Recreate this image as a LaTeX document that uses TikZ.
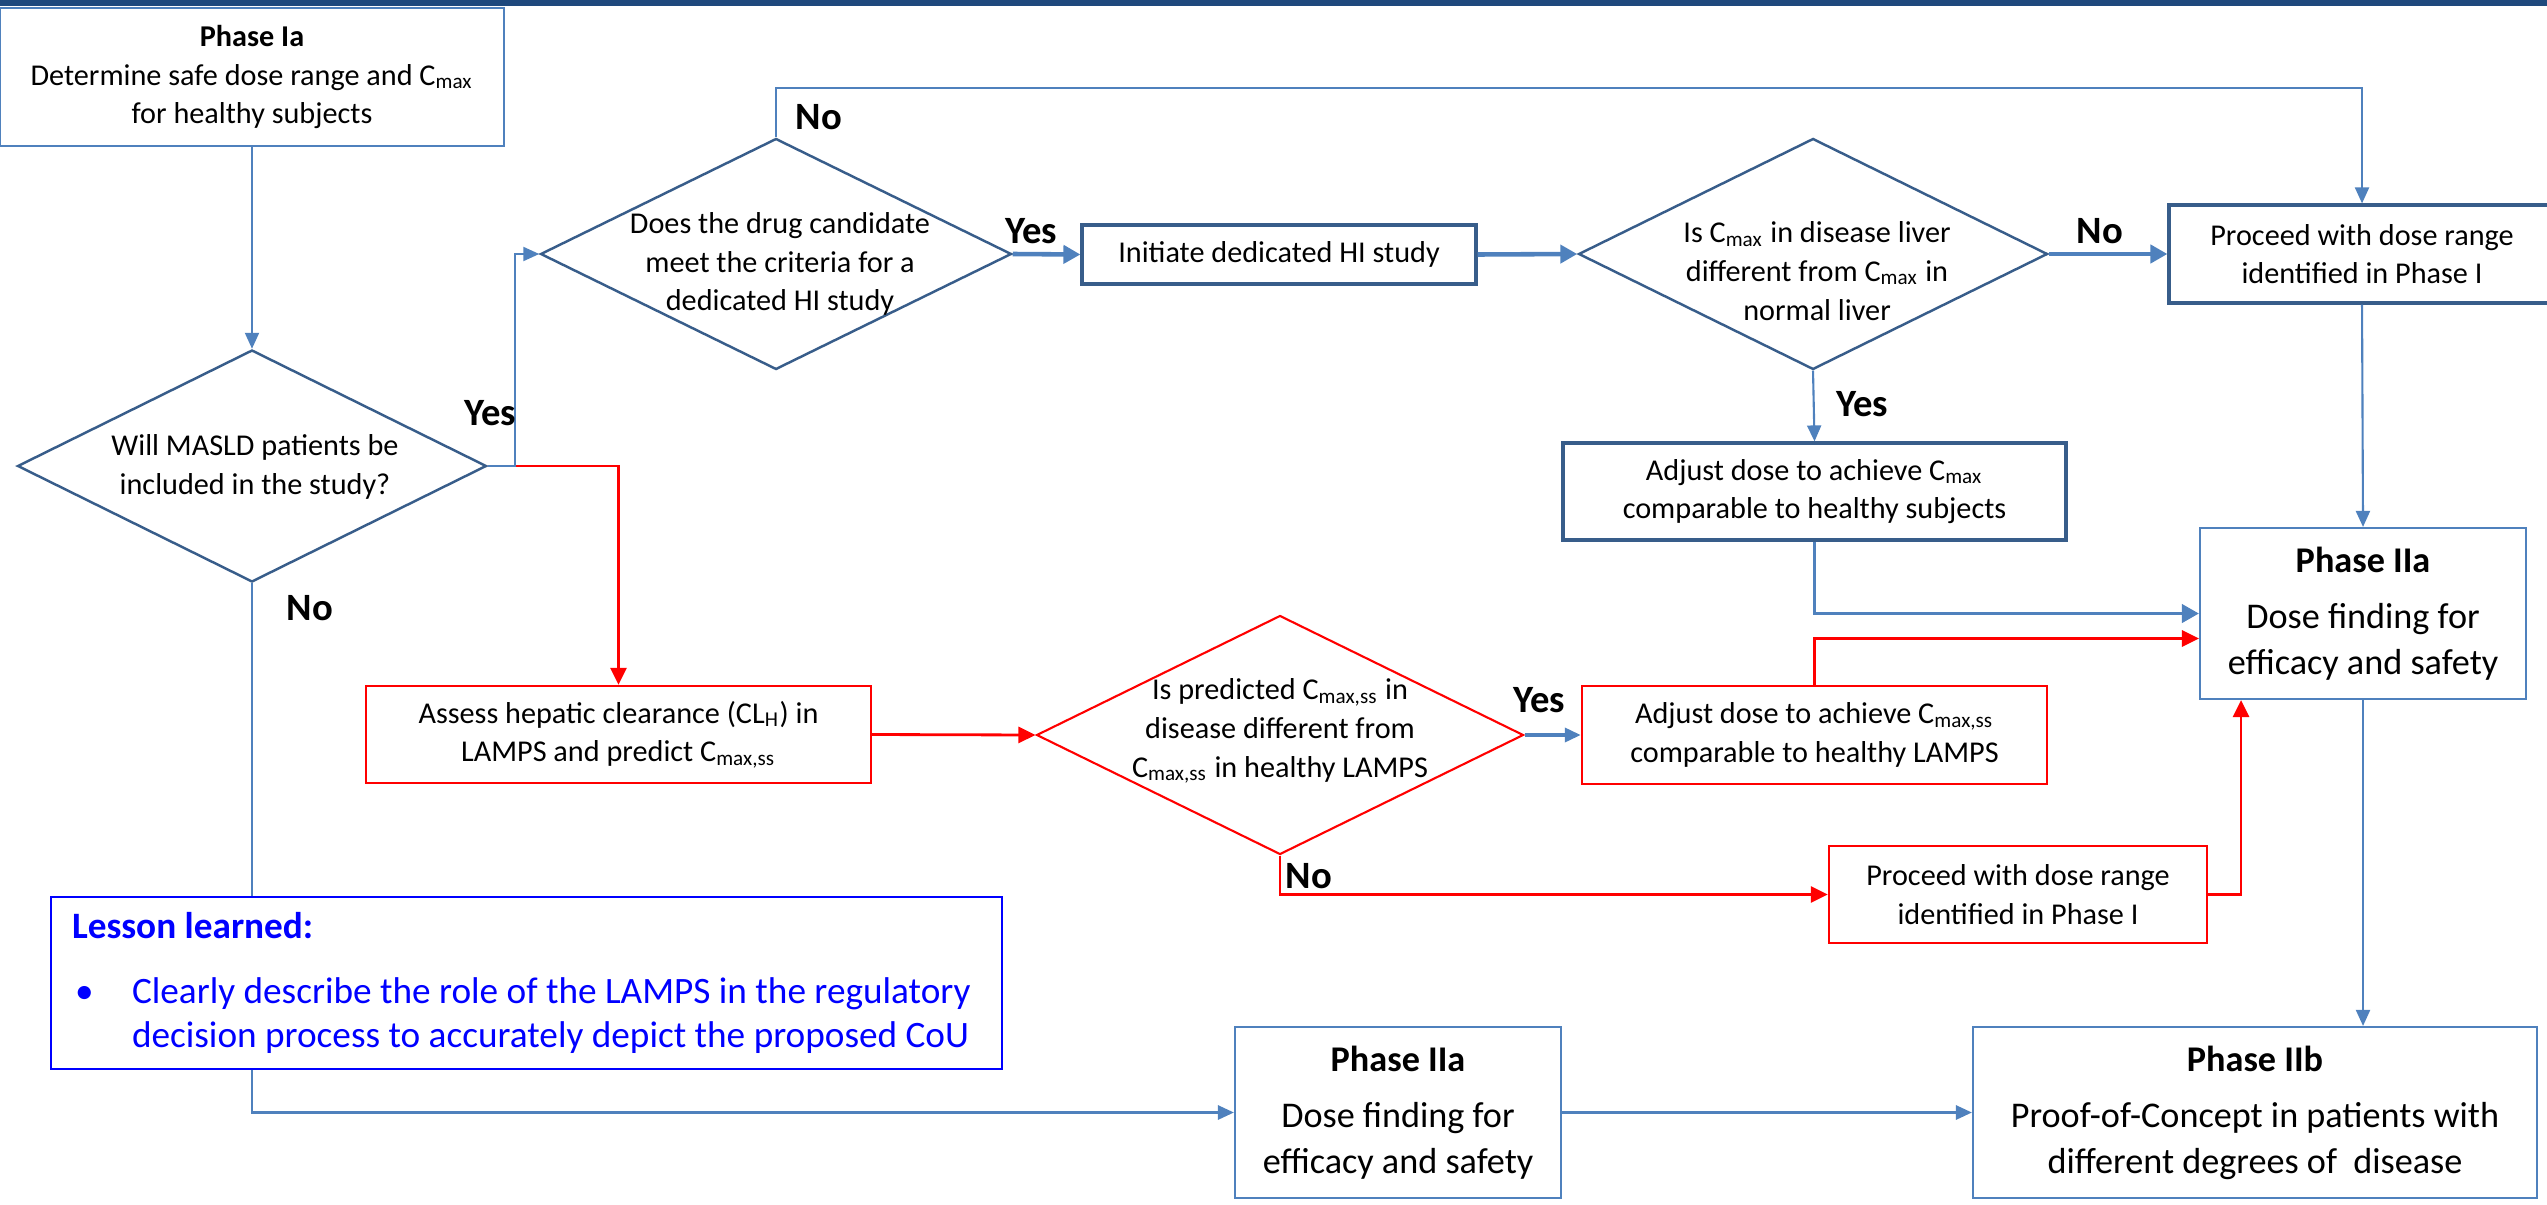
\documentclass[tikz,border=0pt]{standalone}
\usepackage{fontspec}
\setmainfont{Carlito}
\usepackage{xcolor}
\usetikzlibrary{shapes.geometric,arrows.meta}
\definecolor{flowblue}{HTML}{4F81BD}
\definecolor{darkblue}{HTML}{385D8A}
\definecolor{headbar}{HTML}{1F497D}
\definecolor{lessonblue}{HTML}{0000FF}
\newcommand{\flowfont}{\fontsize{8.6}{11}\selectfont}
\newcommand{\phasefont}{\fontsize{10.3}{13}\selectfont}
\newcommand{\lessonfont}{\fontsize{10.6}{12.6}\selectfont}
\newcommand{\answerfont}{\fontsize{11}{13}\selectfont\bfseries}

\begin{document}
\begin{tikzpicture}[
        box/.style={draw=flowblue, line width=0.6pt, fill=white, align=center, inner sep=0pt, font=\flowfont},
        hibox/.style={draw=darkblue, line width=0.9pt, fill=white, align=center, inner sep=0pt, font=\flowfont},
        redbox/.style={draw=red, line width=0.7pt, fill=white, align=center, inner sep=0pt, font=\flowfont},
        dia/.style={diamond, draw=darkblue, line width=0.7pt, inner sep=0pt},
        reddia/.style={diamond, draw=red, line width=0.6pt, inner sep=0pt},
        diatext/.style={align=center, font=\flowfont},
        answer/.style={font=\answerfont},
        conn/.style={draw=flowblue, line width=0.6pt, -{Triangle[length=1.6mm, width=1.4mm]}},
        thickconn/.style={draw=flowblue, line width=1.3pt, -{Triangle[length=1.7mm, width=1.8mm]}},
        redconn/.style={draw=red, line width=0.8pt, -{Triangle[length=1.7mm, width=1.6mm]}}
    ]
        \useasboundingbox (0, 0) rectangle (25.47, -12.04);
        \fill[headbar] (0, 0) rectangle (25.47, -0.06);

        % Phase I boxes and questions
        \node[box, minimum width=5.04cm, minimum height=1.38cm] (p1a) at (2.52, -0.77)
            {\textbf{Phase Ia}\\Determine safe dose range and C\textsubscript{max}\\for healthy subjects};
        \node[dia, minimum width=4.69cm, minimum height=2.32cm] (q1) at (2.52, -4.66) {};
        \node[diatext] (q1text) at (2.55, -4.67) {Will MASLD patients be\\included in the study?};
        \node[dia, minimum width=4.71cm, minimum height=2.31cm] (q2) at (7.76, -2.54) {};
        \node[diatext] (q2text) at (7.8, -2.64) {Does the drug candidate\\meet the criteria for a\\dedicated HI study};

        % Dedicated HI study branch
        \node[hibox, minimum width=3.94cm, minimum height=0.59cm] (hi) at (12.79, -2.545) {Initiate dedicated HI study};
        \node[dia, minimum width=4.69cm, minimum height=2.31cm] (q3) at (18.13, -2.54) {};
        \node[diatext] (q3text) at (18.17, -2.71) {Is C\textsubscript{max} in disease liver\\different from C\textsubscript{max} in\\normal liver};
        \node[hibox, minimum width=3.86cm, minimum height=0.98cm] (proc1) at (23.62, -2.54) {Proceed with dose range\\identified in Phase I};
        \node[hibox, minimum width=5.03cm, minimum height=0.97cm] (adj1) at (18.145, -4.915) {Adjust dose to achieve C\textsubscript{max}\\comparable to healthy subjects};
        \node[box, font=\phasefont, minimum width=3.26cm, minimum height=1.71cm] (p2a) at (23.63, -6.135)
            {\textbf{Phase IIa}\\[3pt]Dose finding for\\efficacy and safety};

        % LAMPS branch
        \node[redbox, minimum width=5.05cm, minimum height=0.97cm] (assess) at (6.185, -7.345)
            {Assess hepatic clearance (CL\textsubscript{H}) in\\LAMPS and predict C\textsubscript{max,ss}};
        \node[reddia, minimum width=4.87cm, minimum height=2.39cm] (q4) at (12.8, -7.35) {};
        \node[diatext] (q4text) at (12.8, -7.31) {Is predicted C\textsubscript{max,ss} in\\disease different from\\C\textsubscript{max,ss} in healthy LAMPS};
        \node[redbox, minimum width=4.65cm, minimum height=0.98cm] (adj2) at (18.145, -7.35) {Adjust dose to achieve C\textsubscript{max,ss}\\comparable to healthy LAMPS};
        \node[redbox, minimum width=3.78cm, minimum height=0.97cm] (proc2) at (20.18, -8.945) {Proceed with dose range\\identified in Phase I};

        % Phase II boxes
        \node[box, font=\phasefont, minimum width=3.26cm, minimum height=1.71cm] (p2a2) at (13.98, -11.125)
            {\textbf{Phase IIa}\\[3pt]Dose finding for\\efficacy and safety};
        \node[box, font=\phasefont, minimum width=5.64cm, minimum height=1.71cm] (p2b) at (22.55, -11.125)
            {\textbf{Phase IIb}\\[3pt]Proof-of-Concept in patients with\\different degrees of~ disease};

        % Connections
        \draw[conn] (p1a) -- (q1);
        \draw[redconn] (q1.east) -| (assess.north);
        \draw[conn] (q1.east) -- ++(0.27, 0) |- (q2.west);
        \draw[conn, line width=0.8pt] (q1.south) |- (p2a2.west);
        \draw[conn] (q2.north) |- ([yshift=1.15cm]proc1.north) -- (proc1.north);
        \draw[thickconn] (q2.east) -- (hi.west);
        \draw[thickconn] (hi.east) -- (q3.west);
        \draw[thickconn] (q3.east) -- (proc1.west);
        \draw[conn] (q3.south) -- (adj1.north);
        \draw[conn] (proc1.south) -- (p2a.north);
        \draw[thickconn, line width=1.1pt] (adj1.south) |- (p2a.west);
        \draw[redconn] (adj2.north) |- ([yshift=-0.25cm]p2a.west);
        \draw[redconn] (assess.east) -- (q4.west);
        \draw[conn, line width=1pt] (q4.east) -- (adj2.west);
        \draw[redconn] (q4.south) |- (proc2.west);
        \draw[redconn] (proc2.east) -| ([xshift=-1.22cm]p2a.south);
        \draw[conn] (p2a.south) -- (p2a.south |- p2b.north);
        \draw[conn, line width=0.8pt] (p2a2.east) -- (p2b.west);

        % Answers
        \node[answer] (yes1) at (4.9, -4.13) {Yes};
        \node[answer] (no1) at (3.1, -6.08) {No};
        \node[answer] (no2) at (8.19, -1.17) {No};
        \node[answer] (yes2) at (10.31, -2.31) {Yes};
        \node[answer] (no3) at (21.0, -2.31) {No};
        \node[answer] (yes3) at (18.62, -4.04) {Yes};
        \node[answer] (yes4) at (15.39, -7.0) {Yes};
        \node[answer] (no4) at (13.09, -8.76) {No};

        % Lesson learned
        \node[draw=lessonblue, line width=0.7pt, fill=white, text=lessonblue, font=\lessonfont,
              text width=9.09cm, inner xsep=0.21cm, inner ysep=0pt, minimum height=1.72cm, align=left] (lesson) at (5.265, -9.83)
            {\spaceskip=0pt\xspaceskip=0pt\relax
             \textbf{Lesson learned:}\\[6pt]\mbox{\makebox[0.6cm][l]{\hspace*{0.03cm}\textbullet}Clearly describe the role of the LAMPS in the regulatory}\\
             \mbox{\hspace*{0.6cm}decision process to accurately depict the proposed CoU}};
    \end{tikzpicture}
\end{document}
